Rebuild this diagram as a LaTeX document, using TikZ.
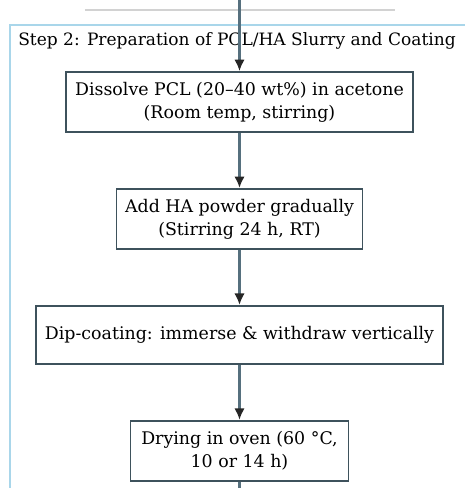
\documentclass[tikz,border=0pt]{standalone}
\usepackage{fontspec}
\setmainfont{DejaVu Serif}
\usetikzlibrary{positioning, arrows.meta}
\definecolor{framecol}{HTML}{A9D6EA}
\definecolor{boxcol}{HTML}{3E525C}
\definecolor{flowcol}{HTML}{56707E}
\definecolor{topcol}{HTML}{D2D2D2}

\begin{document}
\begin{tikzpicture}[x=0.02cm, y=-0.02cm,
            stepbox/.style={draw=boxcol, line width=1.1pt, fill=white, align=center, font=\fontsize{9.9}{13}\selectfont, minimum height=1.2cm},
            flow/.style={-{Latex[length=6.5pt,width=6pt,color=black!85]}, draw=flowcol, line width=1.3pt},
            node distance=1.1cm]
        \useasboundingbox (0,0) rectangle (465,488);
        \clip (0,0) rectangle (465,488);

        % group frame and the line of the step above
        \draw[framecol, line width=0.8pt] (10,520) |- (500,25);
        \coordinate (prevL) at (85,10);
        \coordinate (prevR) at (395,10);
        \draw[topcol, line width=1pt] (prevL) -- (prevR);
        \node[font=\fontsize{9.7}{11}\selectfont] (title) at (237,41) {Step 2: Preparation of PCL/HA Slurry and Coating};

        \node[stepbox, minimum width=6.94cm] (dissolve) at (239.5,102) {Dissolve PCL (20--40 wt\%) in acetone\\(Room temp, stirring)};
        \node[stepbox, minimum width=4.92cm, below=of dissolve] (addha) {Add HA powder gradually\\(Stirring 24 h, RT)};
        \node[stepbox, minimum width=8.14cm, minimum height=1.16cm, below=of addha] (dip) {Dip-coating: immerse \& withdraw vertically};
        \node[stepbox, minimum width=4.36cm, below=of dip] (dry) {Drying in oven (60 °C,\\10 or 14 h)};

        \coordinate (in) at (239.5,0);
        \coordinate (out) at (239.5,488);
        \draw[flow] (in) -- (dissolve);
        \draw[flow] (dissolve) -- (addha);
        \draw[flow] (addha) -- (dip);
        \draw[flow] (dip) -- (dry);
        \draw[draw=flowcol, line width=1.3pt] (dry) -- (out);
    \end{tikzpicture}
\end{document}
